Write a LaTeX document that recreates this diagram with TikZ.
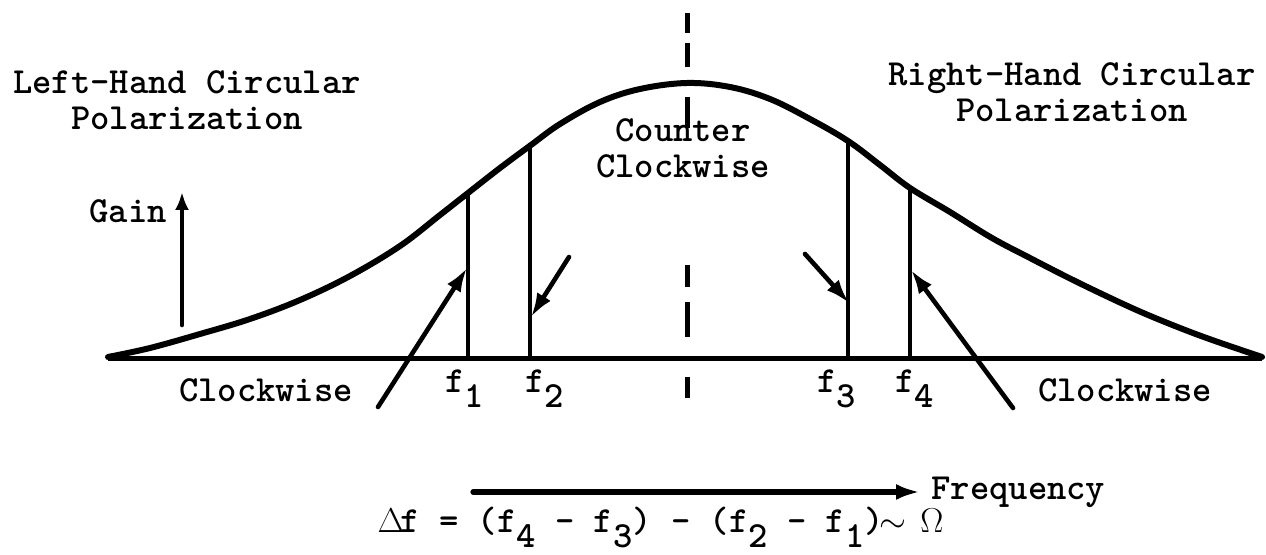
\documentclass[tikz,border=0pt]{standalone}
\usetikzlibrary{arrows.meta}
\tikzset{
  lbl/.style={font=\ttfamily\bfseries\fontsize{18.4}{18}\selectfont, inner sep=0pt, align=center, anchor=base},
  bell/.style={line width=3pt, line join=round, line cap=round},
  axisline/.style={line width=2.5pt},
  fline/.style={line width=2.2pt},
  pointer/.style={line width=2.3pt, line cap=round, -{Latex[length=12pt,width=8pt]}},
}
\newcommand{\fsub}[2]{#1\raisebox{-0.9ex}{#2}}
\begin{document}
\begin{tikzpicture}[x=0.5pt,y=-0.5pt]
        \useasboundingbox (0,0) rectangle (1266,555);
        % 利得曲線
        \draw[bell] plot[smooth, tension=0.6] coordinates {(108,357) (150,348) (200,334) (250,319)
          (300,300) (350,276) (400,246) (440,215) (468,193) (500,168) (531,145) (560,124)
          (600,102) (640,89) (687,83) (730,87) (770,99) (810,119) (848,141) (880,165)
          (910,188) (950,212) (992,238) (1030,258) (1067,277) (1104,295) (1141,312)
          (1180,328) (1215,341) (1262,357)};
        \coordinate (L) at (108,359);
        \coordinate (R) at (1262,359);
        \draw[axisline] (L) -- (R);
        % 中心線 (破線)
        \foreach \a/\b in {13/33, 43/67, 97/128, 265/287, 302/337, 377/398}
          \draw[fline, line width=2.5pt] (687,\a) -- (687,\b);
        % 周波数 f1 ... f4
        \foreach \n/\x/\y/\lx in {1/468/192/445, 2/530/143/525, 3/848/142/817, 4/910/188/895} {
          \coordinate (f\n top) at (\x,\y);
          \coordinate (f\n bot) at (\x,359);
          \draw[fline] (f\n top) -- (f\n bot);
          \node[lbl, anchor=base west] (f\n) at (\lx,393) {\fsub{f}{\n}};
        }
        % 矢印
        \coordinate (a1) at (378,407);  \coordinate (b1) at (467,268);
        \coordinate (a2) at (569,257);  \coordinate (b2) at (531,317);
        \coordinate (a3) at (805,254);  \coordinate (b3) at (849,303);
        \coordinate (a4) at (1013,408); \coordinate (b4) at (911,270);
        \foreach \n in {1,2,3,4}
          \draw[pointer] (a\n) -- (b\n);
        % ラベル
        \node[lbl] (LH) at (187,130) {Left-Hand Circular\\Polarization};
        \node[lbl] (RH) at (1072,122) {Right-Hand Circular\\Polarization};
        \node[lbl] (CC) at (683,178) {Counter\\Clockwise};
        \node[lbl] (CWL) at (266,402) {Clockwise};
        \node[lbl] (CWR) at (1125,402) {Clockwise};
        \node[lbl] (G) at (128,223) {Gain};
        \coordinate (g0) at (182,325);
        \coordinate (g1) at (182,192);
        \draw[pointer, -{Latex[length=9pt,width=7pt]}] (g0) -- (g1);
        % 周波数軸と式
        \coordinate (q0) at (473,492);
        \coordinate (q1) at (920,492);
        \draw[pointer, line width=2.6pt] (q0) -- (q1);
        \node[lbl, anchor=base west] (F) at (931,500) {Frequency};
        \node[lbl, anchor=base west] (E) at (381,533)
          {\makebox[0.525em]{$\Delta$}f = (\fsub{f}{4} - \fsub{f}{3}) - (\fsub{f}{2} - \fsub{f}{1})\makebox[0.525em]{$\sim$} \makebox[0.525em]{$\Omega$}};
    \end{tikzpicture}
\end{document}
